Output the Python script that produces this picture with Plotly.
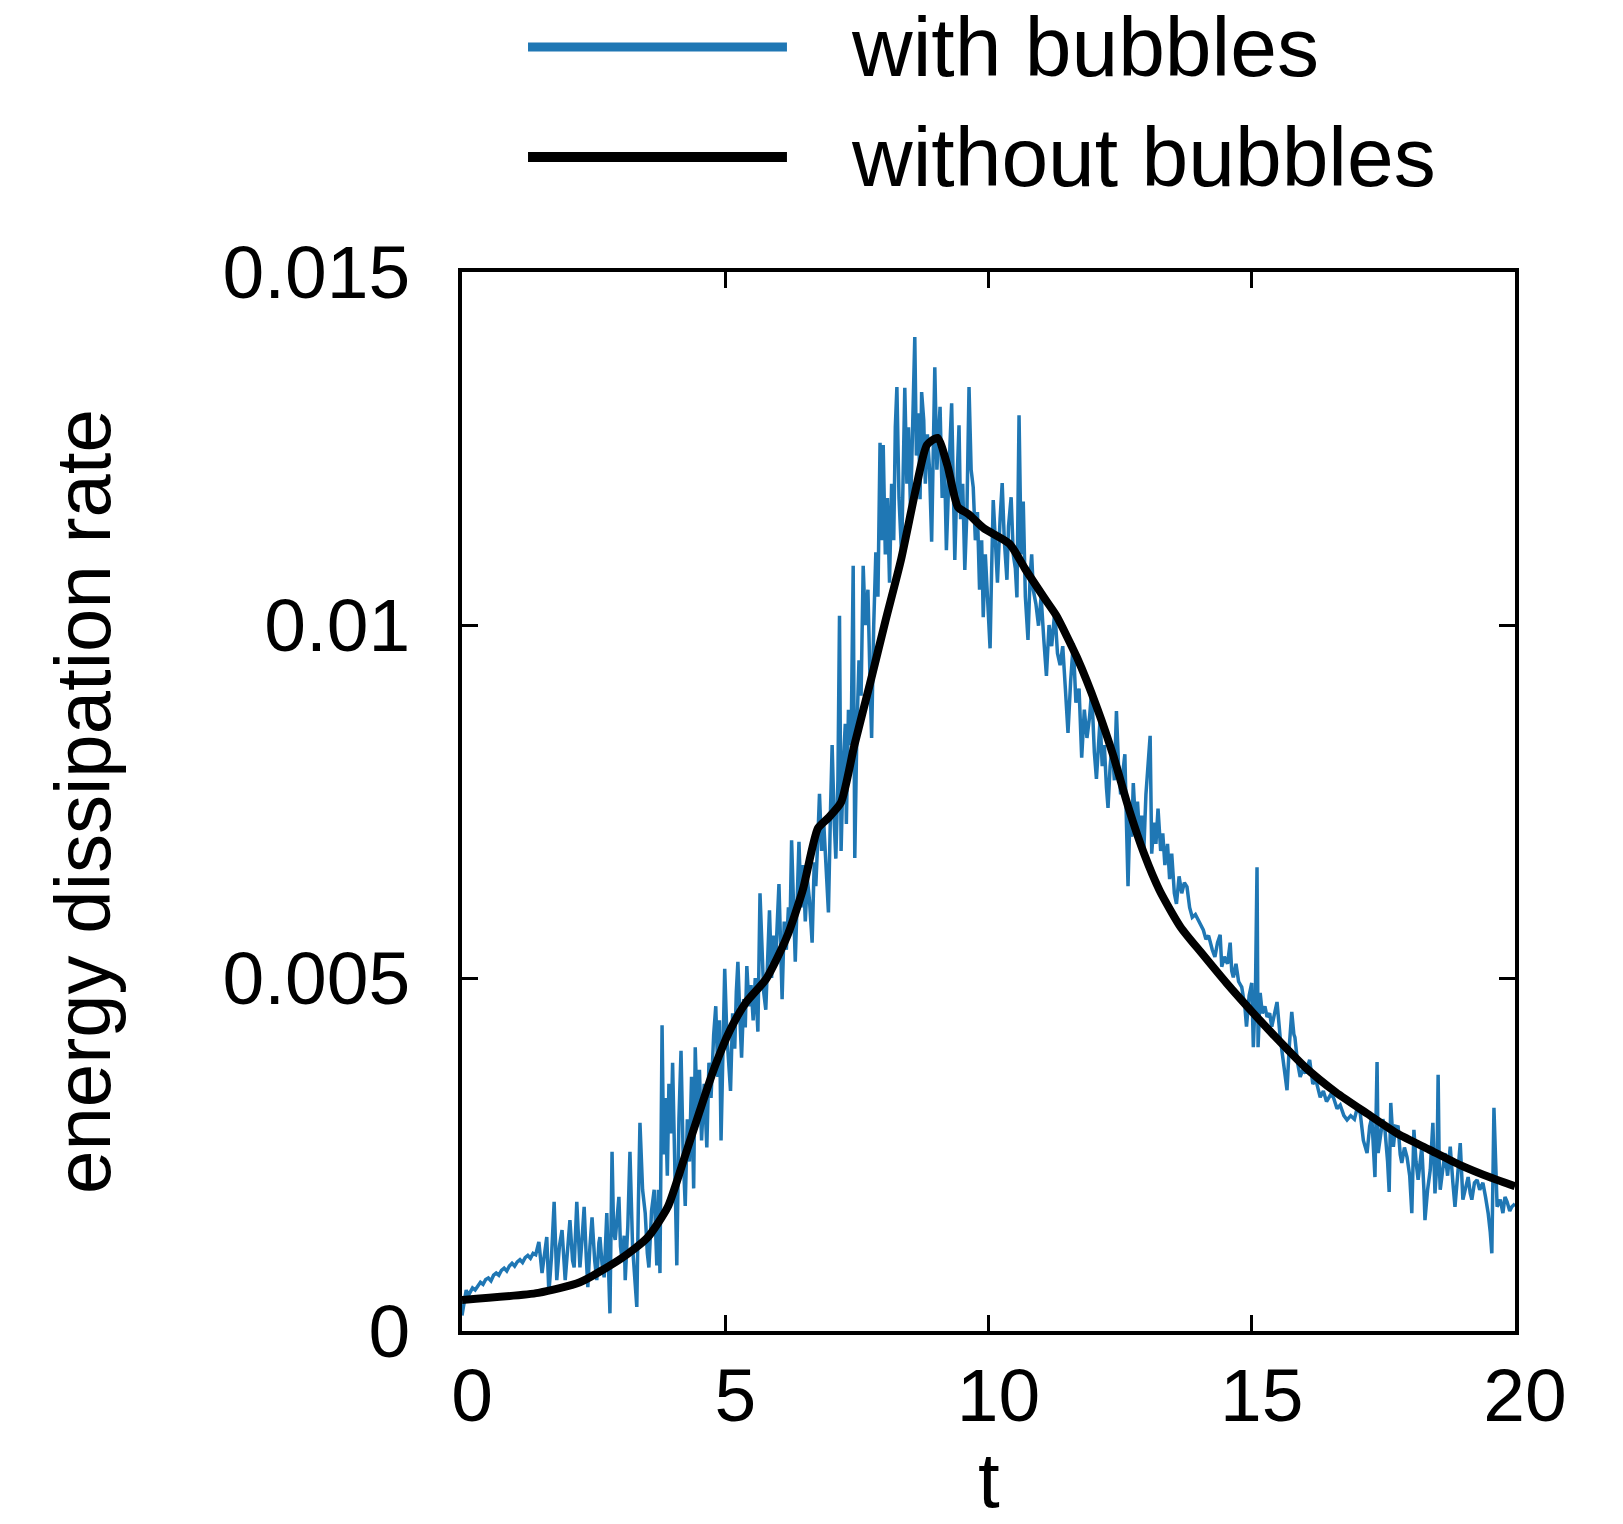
import plotly.graph_objects as go

# ---------------- data (energy dissipation rate in units of 1e-4) ----------------
t_without = [0.0, 1.45, 2.24, 3.03, 3.52, 3.91, 4.21, 4.5, 4.8, 5.09, 5.39, 5.78, 6.17,
             6.47, 6.76, 6.96, 7.2, 7.45, 7.75, 8.04, 8.34, 8.63, 8.83, 9.03, 9.22, 9.42,
             9.62, 9.91, 10.4, 10.7, 11.09, 11.29, 11.68, 12.07, 12.37, 12.66, 12.96,
             13.25, 13.65, 14.04, 14.53, 15.02, 15.52, 16.01, 16.6, 17.19, 17.78, 18.37,
             18.96, 19.55, 20.0]
e_without_e4 = [4.4, 5.4, 6.9, 10.3, 13.2, 17.6, 24.2, 30.8, 37.4, 42.6, 46.5, 49.9, 55.8,
                62.4, 71.2, 72.7, 74.9, 82.9, 91.7, 100.5, 109.3, 119.6, 125.5, 126.5, 122.6,
                116.7, 115.7, 113.7, 111.5, 107.9, 103.5, 101.3, 95.4, 88.1, 81.5, 74.1, 67.5,
                62.4, 57.2, 53.6, 49.2, 45.1, 41.1, 37.4, 33.8, 30.8, 27.9, 25.7,
                23.5, 21.7, 20.5]

t_with = [
    0.00, 0.04, 0.08, 0.12, 0.16, 0.20, 0.25, 0.30, 0.35, 0.40, 0.45, 0.50, 0.55, 0.60,
    0.65, 0.70, 0.75, 0.80, 0.85, 0.90, 0.95, 1.00, 1.05, 1.10, 1.15, 1.20, 1.25, 1.30,
    1.35, 1.40, 1.46, 1.52, 1.57, 1.61, 1.65, 1.70, 1.75, 1.80, 1.85, 1.90, 1.96, 2.00,
    2.05, 2.10, 2.13, 2.18, 2.24, 2.28, 2.32, 2.36, 2.39, 2.43, 2.47, 2.52, 2.56, 2.60,
    2.62, 2.66, 2.70, 2.75, 2.81, 2.85, 2.88, 2.91, 2.95, 2.98, 3.01, 3.04, 3.08, 3.10,
    3.15, 3.19, 3.24, 3.28, 3.32, 3.35, 3.38, 3.43, 3.48, 3.52, 3.55, 3.60, 3.65, 3.70,
    3.73, 3.76, 3.80, 3.83, 3.86, 3.90, 3.93, 3.97, 4.00, 4.04, 4.08, 4.12, 4.16, 4.20,
    4.24, 4.28, 4.32, 4.36, 4.40, 4.43, 4.47, 4.51, 4.55, 4.60, 4.65, 4.69, 4.73, 4.78,
    4.82, 4.86, 4.89, 4.92, 4.96, 4.99, 5.03, 5.06, 5.10, 5.14, 5.18, 5.21, 5.24, 5.28,
    5.31, 5.35, 5.38, 5.41, 5.45, 5.49, 5.53, 5.57, 5.62, 5.66, 5.70, 5.73, 5.77, 5.81,
    5.84, 5.88, 5.92, 5.96, 6.02, 6.05, 6.08, 6.12, 6.16, 6.20, 6.23, 6.26, 6.30, 6.33,
    6.37, 6.40, 6.44, 6.48, 6.52, 6.56, 6.60, 6.65, 6.69, 6.72, 6.76, 6.79, 6.83, 6.87,
    6.92, 6.96, 7.00, 7.03, 7.07, 7.10, 7.14, 7.17, 7.20, 7.24, 7.28, 7.30, 7.34, 7.39,
    7.43, 7.46, 7.50, 7.54, 7.58, 7.62, 7.66, 7.71, 7.75, 7.78, 7.82, 7.86, 7.90, 7.94,
    7.97, 8.00, 8.04, 8.08, 8.12, 8.16, 8.20, 8.23, 8.26, 8.30, 8.35, 8.38, 8.41, 8.45,
    8.48, 8.52, 8.56, 8.60, 8.63, 8.67, 8.70, 8.73, 8.77, 8.80, 8.84, 8.88, 8.92, 8.95,
    8.98, 9.02, 9.05, 9.08, 9.12, 9.16, 9.20, 9.24, 9.27, 9.30, 9.33, 9.36, 9.40, 9.44,
    9.47, 9.51, 9.55, 9.59, 9.63, 9.67, 9.71, 9.75, 9.79, 9.83, 9.87, 9.90, 9.94, 9.98,
    10.03, 10.06, 10.09, 10.13, 10.17, 10.22, 10.26, 10.30, 10.35, 10.38, 10.43, 10.47,
    10.51, 10.54, 10.58, 10.62, 10.66, 10.70, 10.75, 10.79, 10.82, 10.85, 10.90, 10.95,
    11.00, 11.05, 11.10, 11.15, 11.20, 11.26, 11.31, 11.36, 11.41, 11.46, 11.51, 11.56,
    11.61, 11.66, 11.72, 11.77, 11.82, 11.87, 11.92, 11.96, 12.01, 12.05, 12.09, 12.12,
    12.16, 12.20, 12.24, 12.27, 12.31, 12.35, 12.39, 12.43, 12.47, 12.51, 12.55, 12.59,
    12.62, 12.65, 12.69, 12.72, 12.75, 12.79, 12.83, 12.87, 12.91, 12.95, 12.99, 13.03,
    13.07, 13.10, 13.14, 13.18, 13.22, 13.27, 13.31, 13.35, 13.40, 13.44, 13.48, 13.53,
    13.57, 13.62, 13.67, 13.72, 13.77, 13.82, 13.87, 13.93, 13.98, 14.03, 14.08, 14.13,
    14.18, 14.25, 14.30, 14.35, 14.40, 14.43, 14.48, 14.54, 14.59, 14.62, 14.65, 14.70,
    14.75, 14.81, 14.85, 14.87, 14.90, 14.95, 15.00, 15.03, 15.07, 15.10, 15.12, 15.16,
    15.20, 15.25, 15.29, 15.34, 15.38, 15.43, 15.48, 15.54, 15.60, 15.64, 15.67, 15.71,
    15.76, 15.80, 15.82, 15.87, 15.92, 15.97, 16.02, 16.10, 16.16, 16.22, 16.30, 16.36,
    16.42, 16.50, 16.55, 16.62, 16.68, 16.75, 16.81, 16.88, 16.95, 17.00, 17.06, 17.12,
    17.19, 17.24, 17.28, 17.34, 17.38, 17.40, 17.44, 17.49, 17.53, 17.58, 17.61, 17.64,
    17.69, 17.73, 17.78, 17.82, 17.85, 17.90, 17.95, 18.00, 18.04, 18.08, 18.12, 18.16,
    18.20, 18.23, 18.27, 18.29, 18.34, 18.39, 18.44, 18.48, 18.52, 18.54, 18.56, 18.58,
    18.63, 18.67, 18.72, 18.77, 18.82, 18.86, 18.91, 18.96, 19.01, 19.06, 19.11, 19.15,
    19.18, 19.23, 19.28, 19.33, 19.39, 19.44, 19.49, 19.53, 19.56, 19.60, 19.63, 19.66,
    19.72, 19.77, 19.81, 19.85, 19.90, 19.94, 20.00]
e_with_e4 = [
    2.2, 4.2, 5.8, 5.0, 5.6, 6.1, 5.8, 6.4, 6.9, 6.6, 7.3, 7.5, 7.1, 7.9,
    8.2, 7.9, 8.6, 8.9, 8.5, 9.2, 9.6, 9.2, 9.8, 10.1, 9.7, 10.4, 10.7, 10.3,
    11.0, 10.8, 12.6, 8.2, 11.0, 13.3, 5.4, 10.5, 18.3, 7.2, 12.0, 14.3, 7.2, 11.5,
    15.7, 10.0, 9.0, 18.3, 9.0, 13.0, 17.6, 10.5, 6.2, 12.0, 16.1, 10.0, 7.2, 12.5,
    13.3, 9.5, 7.6, 16.7, 2.5, 25.4, 14.0, 12.9, 16.0, 19.0, 12.0, 10.0, 13.5, 7.2,
    15.0, 25.4, 11.9, 8.0, 3.4, 18.0, 29.5, 20.0, 16.7, 11.0, 9.0, 17.0, 20.0, 9.3,
    20.0, 8.2, 43.3, 25.0, 33.0, 22.0, 35.0, 28.0, 38.0, 24.0, 9.3, 30.0, 39.7, 25.0,
    17.7, 30.0, 24.0, 36.0, 20.2, 40.2, 30.0, 37.0, 27.0, 35.0, 26.0, 38.0, 33.0, 42.0,
    46.0, 36.0, 44.0, 27.0, 40.0, 51.3, 42.0, 38.0, 34.0, 45.0, 40.0, 48.0, 52.3, 44.0,
    38.7, 47.0, 43.0, 51.7, 46.0, 49.0, 44.0, 50.0, 42.4, 62.0, 52.0, 48.0, 45.5, 54.0,
    59.6, 50.0, 56.0, 53.0, 63.3, 55.0, 47.0, 58.0, 54.0, 60.0, 57.0, 69.5, 60.0, 52.3,
    62.0, 69.3, 60.0, 66.0, 58.0, 64.0, 61.0, 55.0, 66.4, 63.0, 70.0, 76.1, 68.0, 72.0,
    65.0, 59.3, 74.0, 83.0, 72.0, 66.9, 78.0, 101.3, 68.0, 80.0, 86.0, 71.8, 88.0, 83.0,
    108.4, 67.0, 85.0, 95.0, 90.0, 108.4, 100.0, 105.0, 92.0, 84.0, 100.0, 110.3, 104.0, 125.8,
    112.0, 125.5, 110.0, 118.0, 106.0, 120.0, 112.0, 128.0, 133.7, 118.0, 109.8, 125.0, 133.6, 120.0,
    128.0, 116.0, 130.0, 140.8, 124.0, 130.0, 117.8, 133.0, 129.0, 120.0, 127.0, 122.0, 111.8, 125.0,
    136.5, 122.0, 128.0, 130.9, 118.0, 125.0, 110.6, 122.0, 126.0, 131.4, 118.0, 109.2, 120.0, 128.3,
    115.0, 120.0, 107.8, 116.0, 133.7, 122.0, 119.5, 112.0, 116.0, 105.0, 112.0, 101.1, 110.0, 104.0,
    96.7, 108.0, 117.7, 112.0, 106.0, 115.0, 120.1, 112.0, 106.4, 114.0, 118.1, 110.0,
    108.0, 103.9, 129.7, 110.0, 117.5, 104.0, 97.9, 106.8, 110.0, 105.0, 103.0, 99.9,
    104.0, 98.0, 92.8, 100.0, 97.0, 102.0, 96.0, 94.3, 97.0, 91.0, 84.7, 92.0,
    97.4, 89.0, 91.0, 81.2, 88.0, 84.0, 87.0, 90.8, 82.0, 78.2, 84.0, 86.7,
    80.0, 83.0, 77.0, 74.1, 80.0, 83.0, 78.0, 87.8, 80.0, 76.0, 79.0, 81.7,
    72.0, 63.0, 74.0, 70.0, 77.6, 72.0, 75.0, 70.0, 73.0, 68.0, 76.0, 80.0,
    84.3, 67.6, 72.0, 69.0, 74.0, 68.0, 70.5, 66.0, 69.0, 64.0, 67.6, 62.0,
    60.5, 64.4, 62.0, 63.5, 62.9, 60.0, 58.6, 59.0, 58.2, 57.5, 56.8, 55.5,
    56.0, 54.0, 53.0, 55.0, 56.1, 51.6, 53.0, 52.0, 55.0, 51.0, 50.1, 52.0,
    49.5, 48.7, 47.0, 45.9, 43.1, 47.5, 49.3, 40.2, 48.0, 65.7, 40.2, 47.9,
    45.0, 46.0, 44.5, 45.0, 43.1, 45.0, 46.6, 41.6, 38.0, 36.0, 34.1, 40.0,
    45.2, 42.0, 41.6, 38.0, 36.0, 37.0, 36.5, 38.4, 35.0, 35.5, 33.1, 34.0,
    32.5, 33.5, 33.1, 31.5, 32.0, 30.5, 29.9, 30.5, 30.0, 31.5, 30.9, 27.0,
    25.2, 29.0, 30.3, 21.8, 38.1, 25.2, 27.5, 30.0, 28.5, 24.0, 19.7, 32.3,
    26.1, 29.0, 28.9, 25.0, 23.8, 26.0, 24.6, 22.0, 16.7, 28.5, 24.0, 21.4,
    24.0, 26.1, 20.0, 15.7, 20.0, 22.8, 29.5, 19.5, 24.0, 36.3, 24.0, 20.0,
    23.0, 25.2, 22.0, 26.1, 21.0, 17.6, 22.0, 26.6, 18.6, 20.0, 21.8, 19.5,
    18.6, 21.0, 21.4, 20.0, 21.0, 19.0, 16.7, 14.0, 11.0, 31.6, 22.0, 17.6,
    18.6, 16.7, 19.0, 18.3, 17.0, 17.6, 18.0]

x_ticks = [0, 5, 10, 15, 20]
y_ticks = [0, 0.005, 0.01, 0.015]
y_tick_labels = ["0", "0.005", "0.01", "0.015"]
series_names = ["with bubbles", "without bubbles"]
series_colors = ["#1f77b4", "#000000"]
x_title = "t"
y_title = "energy dissipation rate"

e_with = [v * 1e-4 for v in e_with_e4]
e_without = [v * 1e-4 for v in e_without_e4]

# ---------------- figure ----------------
FONT = "Liberation Sans, Arial, Helvetica, sans-serif"
fig = go.Figure()
fig.add_trace(go.Scatter(x=t_with, y=e_with, mode="lines", name=series_names[0],
                         line=dict(color=series_colors[0], width=3.5)))
fig.add_trace(go.Scatter(x=t_without, y=e_without, mode="lines", name=series_names[1],
                         line=dict(color=series_colors[1], width=8, shape="spline",
                                   smoothing=0.6)))

axis_common = dict(showline=True, linecolor="black", linewidth=3.5, mirror="ticks",
                   ticks="inside", ticklen=16, tickwidth=3, tickcolor="black",
                   showgrid=False, zeroline=False,
                   tickfont=dict(family=FONT, size=75, color="black"))

fig.update_xaxes(range=[0, 20], tickvals=x_ticks, ticklabelstandoff=-4,
                 ticklabelshift=10, **axis_common)
fig.update_yaxes(range=[0, 0.015], tickvals=y_ticks, ticktext=y_tick_labels,
                 ticklabelstandoff=33,
                 title=dict(text=y_title,
                            font=dict(family=FONT, size=78, color="black"), standoff=87),
                 **axis_common)

# x-axis title placed as annotation (sits lower than the margin-constrained title)
fig.add_annotation(xref="paper", yref="paper", x=0.5, y=-0.1405, text=x_title,
                   showarrow=False, xanchor="center", yanchor="middle",
                   font=dict(family=FONT, size=78, color="black"))

# manual legend (long line samples above the plot)
legend_y = [1.2125, 1.1086]
legend_w = [9, 10]
for name, col, yy, w in zip(series_names, series_colors, legend_y, legend_w):
    fig.add_shape(type="line", xref="paper", yref="paper", x0=0.0627, x1=0.3086,
                  y0=yy, y1=yy, line=dict(color=col, width=w))
    fig.add_annotation(xref="paper", yref="paper", x=0.3675, y=yy, text=name,
                       showarrow=False, xanchor="left", yanchor="middle",
                       font=dict(family=FONT, size=84, color="black"))

fig.update_layout(width=1623, height=1524, showlegend=False,
                  margin=dict(l=462, r=108, t=272, b=193, autoexpand=False),
                  plot_bgcolor="white", paper_bgcolor="white",
                  font=dict(family=FONT, color="black"))

fig.write_html("out.html")
